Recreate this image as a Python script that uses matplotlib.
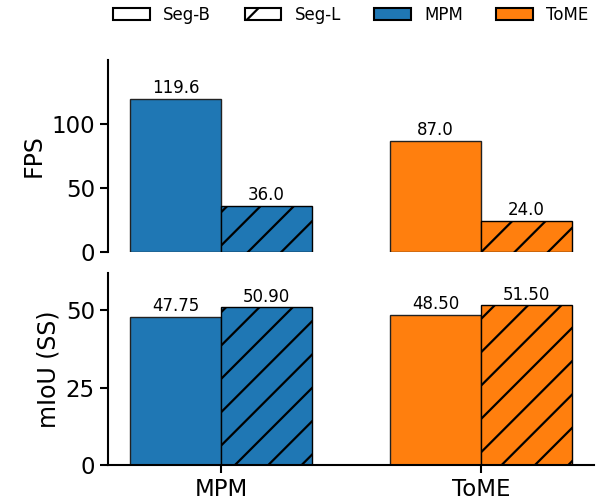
import matplotlib
matplotlib.use("Agg")
import matplotlib.pyplot as plt
import matplotlib.patches as mpatches
import numpy as np

metodos = ["MPM", "ToME"]
fps_segb = [119.6, 87.0]
fps_segl = [36.0, 24.0]
miou_segb = [47.75, 48.50]
miou_segl = [50.90, 51.50]
cores = ["#1f77b4", "#ff7f0e"]

plt.rcParams["hatch.linewidth"] = 1.6

x = np.arange(len(metodos))
largura = 0.35

fig, (ax1, ax2) = plt.subplots(2, 1, figsize=(5.97, 5.03), dpi=100, sharex=True)
fig.subplots_adjust(left=0.181, right=0.995, top=0.881, bottom=0.0755, hspace=0.108)

# FPS
b1 = ax1.bar(x - largura / 2, fps_segb, largura, color=cores, edgecolor="#222222")
b2 = ax1.bar(x + largura / 2, fps_segl, largura, color=cores, edgecolor="black", hatch="/")
for barras in (b1, b2):
    for b in barras:
        ax1.text(b.get_x() + b.get_width() / 2, b.get_height() + 1.5, f"{b.get_height():.1f}",
                 ha="center", va="bottom", fontsize=12)
ax1.set_ylim(0, 150)
ax1.set_yticks([0, 50, 100])
ax1.set_ylabel("FPS", fontsize=17)
ax1.spines["bottom"].set_visible(False)

# mIoU
b3 = ax2.bar(x - largura / 2, miou_segb, largura, color=cores, edgecolor="#222222")
b4 = ax2.bar(x + largura / 2, miou_segl, largura, color=cores, edgecolor="black", hatch="/")
for barras in (b3, b4):
    for b in barras:
        ax2.text(b.get_x() + b.get_width() / 2, b.get_height() + 0.5, f"{b.get_height():.2f}",
                 ha="center", va="bottom", fontsize=12)
ax2.set_ylim(0, 62)
ax2.set_yticks([0, 25, 50])
ax2.set_ylabel("mIoU (SS)", fontsize=17)
ax2.set_xticks(x)
ax2.set_xticklabels(metodos)
ax2.set_xlim(-0.435, 1.435)

for ax in (ax1, ax2):
    ax.spines["top"].set_visible(False)
    ax.spines["right"].set_visible(False)
    ax.spines["left"].set_linewidth(1.5)
    ax.spines["bottom"].set_linewidth(1.5)
    ax.tick_params(labelsize=16.5, width=1.5, length=6)
ax1.tick_params(axis="x", bottom=False)

# legenda
handles = [
    mpatches.Patch(facecolor="white", edgecolor="black", linewidth=1.5, label="Seg-B"),
    mpatches.Patch(facecolor="white", edgecolor="black", linewidth=1.5, hatch="/", label="Seg-L"),
    mpatches.Patch(facecolor=cores[0], edgecolor="black", linewidth=1.5, label="MPM"),
    mpatches.Patch(facecolor=cores[1], edgecolor="black", linewidth=1.5, label="ToME"),
]
fig.legend(handles=handles, loc="upper center", ncol=4, frameon=False, fontsize=12,
           handlelength=2.2, bbox_to_anchor=(0.588, 1.018))

plt.savefig("out.png")
